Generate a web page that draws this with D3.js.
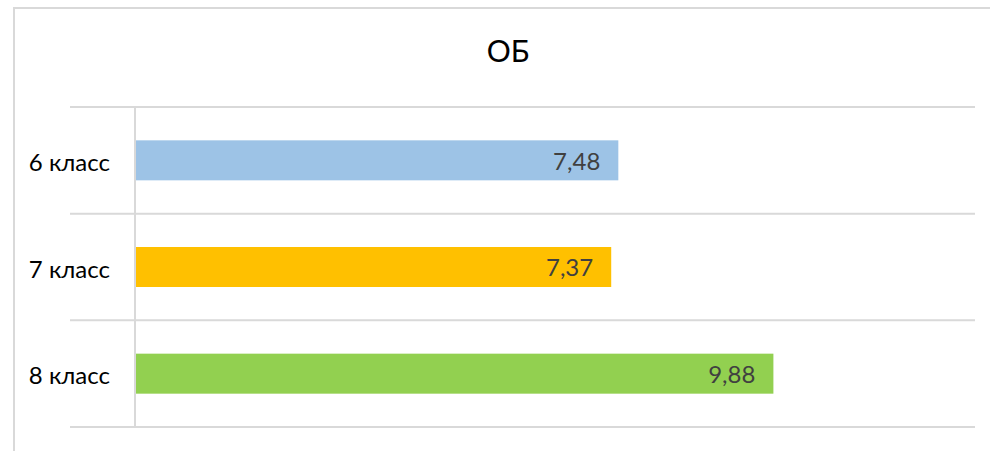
<!DOCTYPE html>
<html>
<head>
<meta charset="utf-8">
<script src="https://cdn.jsdelivr.net/npm/d3@7"></script>
<style>
  body { margin: 0; background: #fff; }
  svg text { font-family: Lato, "Open Sans", sans-serif; }
</style>
</head>
<body>
<div id="chart"></div>
<script>
// chart data
const categories = ["6 класс", "7 класс", "8 класс"];
const values = [7.48, 7.37, 9.88];
const barColors = ["#9dc3e6", "#ffc000", "#92d050"];
const title = "ОБ";

const width = 990, height = 451;
const margin = {top: 107, right: 15, bottom: 24, left: 135};

const svg = d3.select("#chart")
  .append("svg")
    .attr("width", width)
    .attr("height", height);

// outer chart frame (only top/left visible in the crop)
svg.append("path")
  .attr("d", "M14,451V8H990")
  .attr("fill", "none")
  .attr("stroke", "#d9d9d9")
  .attr("stroke-width", 2);

svg.append("text")
  .attr("x", 508)
  .attr("y", 62)
  .attr("text-anchor", "middle")
  .attr("font-size", 30)
  .attr("fill", "#000")
  .text(title);

const x = d3.scaleLinear()
  .domain([0, 13])
  .range([margin.left, width - margin.right]);

const y = d3.scaleBand()
  .domain(categories)
  .range([margin.top, height - margin.bottom])
  .paddingInner(0.625)
  .paddingOuter(0.3125);

const step = y.step();

// horizontal grid at category boundaries
const gridY = d3.range(categories.length + 1).map(i => margin.top + i * step);
svg.append("g")
  .selectAll("line")
  .data(gridY)
  .join("line")
    .attr("x1", 70)
    .attr("x2", x.range()[1])
    .attr("y1", d => d)
    .attr("y2", d => d)
    .attr("stroke", "#d9d9d9")
    .attr("stroke-width", 2);

// bars
svg.append("g")
  .selectAll("rect")
  .data(categories)
  .join("rect")
    .attr("x", x(0))
    .attr("y", d => y(d))
    .attr("width", (d, i) => x(values[i]) - x(0))
    .attr("height", y.bandwidth())
    .attr("fill", (d, i) => barColors[i]);

// category axis
const yAxis = svg.append("g")
  .attr("transform", `translate(${x(0)},0)`)
  .call(d3.axisLeft(y).tickSize(0).tickPadding(25));
yAxis.select(".domain")
  .attr("d", `M0,${margin.top}V${gridY[gridY.length - 1]}`)
  .attr("stroke", "#d9d9d9")
  .attr("stroke-width", 2);
yAxis.selectAll("text")
  .attr("font-size", 24)
  .attr("font-family", "Lato, 'Open Sans', sans-serif")
  .attr("dy", "0.45em")
  .attr("fill", "#000");

// value labels inside bar end
svg.append("g")
  .selectAll("text")
  .data(categories)
  .join("text")
    .attr("x", (d, i) => x(values[i]) - 18)
    .attr("y", d => y(d) + y.bandwidth() / 2)
    .attr("dy", "0.39em")
    .attr("text-anchor", "end")
    .attr("font-size", 24)
    .attr("fill", "#404040")
    .text((d, i) => d3.format(".2f")(values[i]).replace(".", ","));
</script>
</body>
</html>
